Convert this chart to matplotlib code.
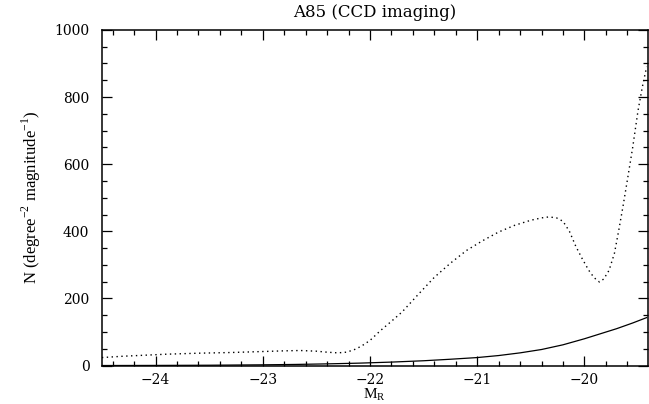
import matplotlib
matplotlib.use("Agg")
import matplotlib.pyplot as plt
from matplotlib.ticker import MultipleLocator

# dotted curve
mag_dot = [-24.50, -24.30, -24.10, -23.90, -23.60, -23.30, -23.00, -22.80, -22.65,
           -22.50, -22.40, -22.30, -22.22, -22.15, -22.08, -22.00, -21.90, -21.80,
           -21.70, -21.55, -21.40, -21.25, -21.10, -20.95, -20.80, -20.65, -20.50,
           -20.40, -20.33, -20.26, -20.20, -20.14, -20.08, -20.02, -19.96, -19.91,
           -19.86, -19.82, -19.77, -19.72, -19.68, -19.64, -19.60, -19.55, -19.50,
           -19.46, -19.42]
n_dot = [24, 28, 31, 34, 37, 39, 42, 44, 45,
         43, 40, 38, 40, 47, 58, 75, 105, 132,
         160, 212, 263, 305, 343, 372, 398, 418, 433,
         440, 443, 440, 430, 400, 355, 318, 284, 262,
         249, 258, 284, 335, 403, 475, 552, 650, 760,
         830, 890]

# solid curve
mag_sol = [-24.50, -24.00, -23.50, -23.00, -22.70, -22.40, -22.10, -21.80, -21.50,
           -21.25, -21.00, -20.80, -20.60, -20.40, -20.20, -20.00, -19.85, -19.70,
           -19.55, -19.42]
n_sol = [0.3, 0.6, 1.2, 2.4, 3.5, 5.2, 7.4, 10.5, 14.5,
         19, 24, 30, 38, 48, 62, 80, 95, 110,
         127, 143]

fig = plt.figure(figsize=(6.49, 4.04), dpi=100)
ax = fig.add_axes([0.157, 0.095, 0.841, 0.831])

ax.plot(mag_dot, n_dot, color="black", linestyle=(0, (1, 2.5)), linewidth=1.0)
ax.plot(mag_sol, n_sol, color="black", linestyle="-", linewidth=0.9)

ax.set_xlim(-24.5, -19.41)
ax.set_ylim(0, 1000)
ax.xaxis.set_major_locator(MultipleLocator(1))
ax.xaxis.set_minor_locator(MultipleLocator(0.2))
ax.yaxis.set_major_locator(MultipleLocator(200))
ax.yaxis.set_minor_locator(MultipleLocator(50))
ax.tick_params(which="both", direction="in", top=True, right=True, width=0.9)
ax.tick_params(which="major", length=7, labelsize=10)
ax.tick_params(axis="x", which="major", pad=5)
ax.tick_params(axis="y", which="major", pad=9)
ax.tick_params(which="minor", length=3.5)
for lab in ax.get_xticklabels() + ax.get_yticklabels():
    lab.set_family("DejaVu Serif")
for sp in ax.spines.values():
    sp.set_linewidth(1.1)

ax.set_title("A85 (CCD imaging)", family="DejaVu Serif", fontsize=12, pad=9)
ax.set_xlabel(r"M$_\mathregular{R}$", family="Liberation Serif", fontsize=11, labelpad=0)
ax.set_ylabel(r"N (degree$^{\mathregular{-2}}$ magnitude$^{\mathregular{-1}}$)",
              family="Liberation Serif", fontsize=12, labelpad=8)

fig.savefig("out.png", dpi=100)
